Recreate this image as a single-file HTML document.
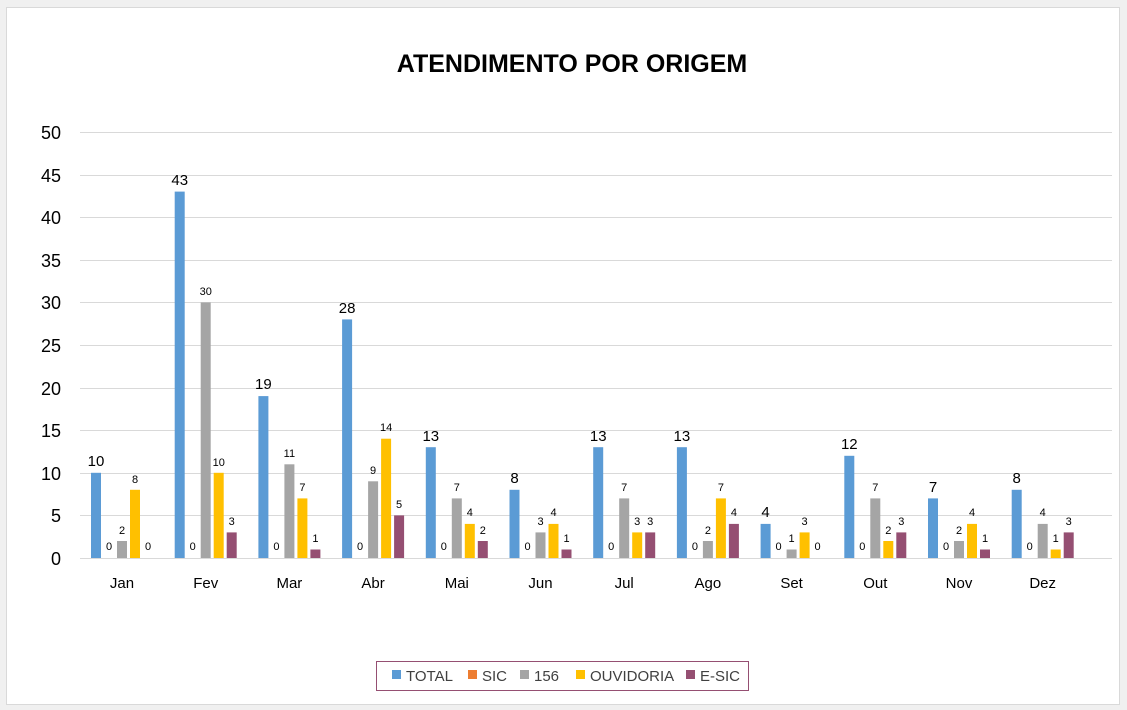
<!DOCTYPE html>
<html><head><meta charset="utf-8"><style>
html,body{margin:0;padding:0;background:#fff;}
svg{display:block;font-family:"Liberation Sans",Arial,sans-serif;}
</style></head><body>
<svg width="1127" height="710" viewBox="0 0 1127 710" xmlns="http://www.w3.org/2000/svg">
<rect x="0" y="0" width="1127" height="710" fill="#f0f0f0"/>
<rect x="6.5" y="7.5" width="1113" height="697" fill="#fff" stroke="#d9d9d9"/>
<text x="572" y="72" text-anchor="middle" font-size="25" font-weight="bold" fill="#000">ATENDIMENTO POR ORIGEM</text>
<g stroke="#d9d9d9" stroke-width="1">
<line x1="80" y1="132.5" x2="1112" y2="132.5"/><line x1="80" y1="175.5" x2="1112" y2="175.5"/>
<line x1="80" y1="217.5" x2="1112" y2="217.5"/><line x1="80" y1="260.5" x2="1112" y2="260.5"/>
<line x1="80" y1="302.5" x2="1112" y2="302.5"/><line x1="80" y1="345.5" x2="1112" y2="345.5"/>
<line x1="80" y1="388.5" x2="1112" y2="388.5"/><line x1="80" y1="430.5" x2="1112" y2="430.5"/>
<line x1="80" y1="473.5" x2="1112" y2="473.5"/><line x1="80" y1="515.5" x2="1112" y2="515.5"/>
<line x1="80" y1="558.5" x2="1112" y2="558.5"/>
</g>
<g font-size="18" fill="#000" text-anchor="end">
<text x="61" y="139">50</text><text x="61" y="182">45</text><text x="61" y="224">40</text>
<text x="61" y="267">35</text><text x="61" y="309">30</text><text x="61" y="352">25</text>
<text x="61" y="395">20</text><text x="61" y="437">15</text><text x="61" y="480">10</text>
<text x="61" y="522">5</text><text x="61" y="565">0</text>
</g>
<g font-size="15" text-anchor="middle" fill="#000">
<text x="122" y="588">Jan</text><text x="205.7" y="588">Fev</text><text x="289.4" y="588">Mar</text>
<text x="373.1" y="588">Abr</text><text x="456.8" y="588">Mai</text><text x="540.5" y="588">Jun</text>
<text x="624.2" y="588">Jul</text><text x="707.9" y="588">Ago</text><text x="791.6" y="588">Set</text>
<text x="875.3" y="588">Out</text><text x="959" y="588">Nov</text><text x="1042.7" y="588">Dez</text>
</g>
<g transform="translate(80,0)">
<rect x="11" y="472.8" width="10" height="85.2" fill="#5b9bd5"/><rect x="37" y="541" width="10" height="17" fill="#a5a5a5"/><rect x="50" y="489.8" width="10" height="68.2" fill="#ffc000"/>
<text x="16" y="466" font-size="15" text-anchor="middle">10</text>
<g font-size="11" text-anchor="middle"><text x="29" y="550">0</text><text x="42" y="534">2</text><text x="55" y="483">8</text><text x="68" y="550">0</text></g></g>
<g transform="translate(163.7,0)">
<rect x="11" y="191.6" width="10" height="366.4" fill="#5b9bd5"/><rect x="37" y="302.4" width="10" height="255.6" fill="#a5a5a5"/><rect x="50" y="472.8" width="10" height="85.2" fill="#ffc000"/><rect x="63" y="532.4" width="10" height="25.6" fill="#954f72"/>
<text x="16" y="185" font-size="15" text-anchor="middle">43</text>
<g font-size="11" text-anchor="middle"><text x="29" y="550">0</text><text x="42" y="295">30</text><text x="55" y="466">10</text><text x="68" y="525">3</text></g></g>
<g transform="translate(247.4,0)">
<rect x="11" y="396.1" width="10" height="161.9" fill="#5b9bd5"/><rect x="37" y="464.3" width="10" height="93.7" fill="#a5a5a5"/><rect x="50" y="498.4" width="10" height="59.6" fill="#ffc000"/><rect x="63" y="549.5" width="10" height="8.5" fill="#954f72"/>
<text x="16" y="389" font-size="15" text-anchor="middle">19</text>
<g font-size="11" text-anchor="middle"><text x="29" y="550">0</text><text x="42" y="457">11</text><text x="55" y="491">7</text><text x="68" y="542">1</text></g></g>
<g transform="translate(331.1,0)">
<rect x="11" y="319.4" width="10" height="238.6" fill="#5b9bd5"/><rect x="37" y="481.3" width="10" height="76.7" fill="#a5a5a5"/><rect x="50" y="438.7" width="10" height="119.3" fill="#ffc000"/><rect x="63" y="515.4" width="10" height="42.6" fill="#954f72"/>
<text x="16" y="313" font-size="15" text-anchor="middle">28</text>
<g font-size="11" text-anchor="middle"><text x="29" y="550">0</text><text x="42" y="474">9</text><text x="55" y="431">14</text><text x="68" y="508">5</text></g></g>
<g transform="translate(414.8,0)">
<rect x="11" y="447.2" width="10" height="110.8" fill="#5b9bd5"/><rect x="37" y="498.4" width="10" height="59.6" fill="#a5a5a5"/><rect x="50" y="523.9" width="10" height="34.1" fill="#ffc000"/><rect x="63" y="541" width="10" height="17" fill="#954f72"/>
<text x="16" y="441" font-size="15" text-anchor="middle">13</text>
<g font-size="11" text-anchor="middle"><text x="29" y="550">0</text><text x="42" y="491">7</text><text x="55" y="516">4</text><text x="68" y="534">2</text></g></g>
<g transform="translate(498.5,0)">
<rect x="11" y="489.8" width="10" height="68.2" fill="#5b9bd5"/><rect x="37" y="532.4" width="10" height="25.6" fill="#a5a5a5"/><rect x="50" y="523.9" width="10" height="34.1" fill="#ffc000"/><rect x="63" y="549.5" width="10" height="8.5" fill="#954f72"/>
<text x="16" y="483" font-size="15" text-anchor="middle">8</text>
<g font-size="11" text-anchor="middle"><text x="29" y="550">0</text><text x="42" y="525">3</text><text x="55" y="516">4</text><text x="68" y="542">1</text></g></g>
<g transform="translate(582.2,0)">
<rect x="11" y="447.2" width="10" height="110.8" fill="#5b9bd5"/><rect x="37" y="498.4" width="10" height="59.6" fill="#a5a5a5"/><rect x="50" y="532.4" width="10" height="25.6" fill="#ffc000"/><rect x="63" y="532.4" width="10" height="25.6" fill="#954f72"/>
<text x="16" y="441" font-size="15" text-anchor="middle">13</text>
<g font-size="11" text-anchor="middle"><text x="29" y="550">0</text><text x="42" y="491">7</text><text x="55" y="525">3</text><text x="68" y="525">3</text></g></g>
<g transform="translate(665.9,0)">
<rect x="11" y="447.2" width="10" height="110.8" fill="#5b9bd5"/><rect x="37" y="541" width="10" height="17" fill="#a5a5a5"/><rect x="50" y="498.4" width="10" height="59.6" fill="#ffc000"/><rect x="63" y="523.9" width="10" height="34.1" fill="#954f72"/>
<text x="16" y="441" font-size="15" text-anchor="middle">13</text>
<g font-size="11" text-anchor="middle"><text x="29" y="550">0</text><text x="42" y="534">2</text><text x="55" y="491">7</text><text x="68" y="516">4</text></g></g>
<g transform="translate(749.6,0)">
<rect x="11" y="523.9" width="10" height="34.1" fill="#5b9bd5"/><rect x="37" y="549.5" width="10" height="8.5" fill="#a5a5a5"/><rect x="50" y="532.4" width="10" height="25.6" fill="#ffc000"/>
<text x="16" y="517" font-size="15" text-anchor="middle">4</text>
<g font-size="11" text-anchor="middle"><text x="29" y="550">0</text><text x="42" y="542">1</text><text x="55" y="525">3</text><text x="68" y="550">0</text></g></g>
<g transform="translate(833.3,0)">
<rect x="11" y="455.8" width="10" height="102.2" fill="#5b9bd5"/><rect x="37" y="498.4" width="10" height="59.6" fill="#a5a5a5"/><rect x="50" y="541" width="10" height="17" fill="#ffc000"/><rect x="63" y="532.4" width="10" height="25.6" fill="#954f72"/>
<text x="16" y="449" font-size="15" text-anchor="middle">12</text>
<g font-size="11" text-anchor="middle"><text x="29" y="550">0</text><text x="42" y="491">7</text><text x="55" y="534">2</text><text x="68" y="525">3</text></g></g>
<g transform="translate(917,0)">
<rect x="11" y="498.4" width="10" height="59.6" fill="#5b9bd5"/><rect x="37" y="541" width="10" height="17" fill="#a5a5a5"/><rect x="50" y="523.9" width="10" height="34.1" fill="#ffc000"/><rect x="63" y="549.5" width="10" height="8.5" fill="#954f72"/>
<text x="16" y="492" font-size="15" text-anchor="middle">7</text>
<g font-size="11" text-anchor="middle"><text x="29" y="550">0</text><text x="42" y="534">2</text><text x="55" y="516">4</text><text x="68" y="542">1</text></g></g>
<g transform="translate(1000.7,0)">
<rect x="11" y="489.8" width="10" height="68.2" fill="#5b9bd5"/><rect x="37" y="523.9" width="10" height="34.1" fill="#a5a5a5"/><rect x="50" y="549.5" width="10" height="8.5" fill="#ffc000"/><rect x="63" y="532.4" width="10" height="25.6" fill="#954f72"/>
<text x="16" y="483" font-size="15" text-anchor="middle">8</text>
<g font-size="11" text-anchor="middle"><text x="29" y="550">0</text><text x="42" y="516">4</text><text x="55" y="542">1</text><text x="68" y="525">3</text></g></g>
<rect x="376.5" y="661.5" width="372" height="29" fill="#fff" stroke="#954f72"/>
<g font-size="15" fill="#404040">
<rect x="392" y="670" width="9" height="9" fill="#5b9bd5"/><text x="406" y="681">TOTAL</text>
<rect x="468" y="670" width="9" height="9" fill="#ed7d31"/><text x="482" y="681">SIC</text>
<rect x="520" y="670" width="9" height="9" fill="#a5a5a5"/><text x="534" y="681">156</text>
<rect x="576" y="670" width="9" height="9" fill="#ffc000"/><text x="590" y="681">OUVIDORIA</text>
<rect x="686" y="670" width="9" height="9" fill="#954f72"/><text x="700" y="681">E-SIC</text>
</g>
</svg>
</body></html>
